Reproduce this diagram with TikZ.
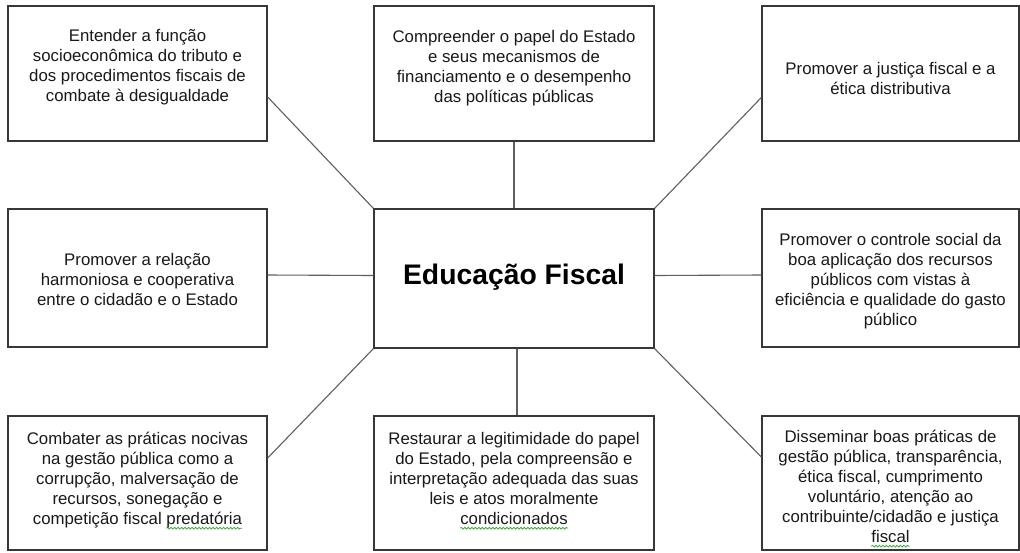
\documentclass[tikz,border=0pt]{standalone}
\usepackage{fontspec}
\setmainfont{Liberation Sans}
\usetikzlibrary{decorations.pathmorphing}
\definecolor{spellgreen}{RGB}{60,170,60}
\definecolor{boxline}{RGB}{55,55,55}
\definecolor{conline}{RGB}{95,95,95}
\definecolor{txt}{RGB}{25,25,25}
\newsavebox\spellbox
\newcommand\spellchk[1]{\sbox\spellbox{#1}\rlap{\tikz[overlay,baseline=0pt]{\draw[spellgreen, line width=0.8pt, decorate, decoration={snake, amplitude=0.9pt, segment length=3.5pt}] (0pt,-4pt) -- (\wd\spellbox,-4pt);}}\usebox\spellbox}
\tikzset{
  boxnode/.style={draw=boxline, line width=1.3pt, rectangle, inner sep=0pt, fill=white},
  textnode/.style={anchor=north, align=center, inner sep=0pt, text=txt,
    font={\fontsize{16.8pt}{20pt}\selectfont}},
  titlenode/.style={anchor=base, inner sep=0pt, text=black,
    font={\fontsize{28.3pt}{32pt}\selectfont\bfseries}},
  conn/.style={draw=conline, line width=1.1pt},
}
\newcommand\fl{\rule{0pt}{16.8pt}}
\begin{document}
\begin{tikzpicture}[x=1pt,y=-1pt]
\useasboundingbox (0,0) rectangle (1020,552);
\fill[white] (0,0) rectangle (1020,552);
% boxes
\node[boxnode, minimum width=259pt, minimum height=135pt] (tl) at (137.5,73.5) {};
\node[boxnode, minimum width=280pt, minimum height=135pt] (tm) at (514,73.5) {};
\node[boxnode, minimum width=257pt, minimum height=135pt] (tr) at (890.5,73.5) {};
\node[boxnode, minimum width=259pt, minimum height=138pt] (ml) at (137.5,278) {};
\node[boxnode, minimum width=280pt, minimum height=139pt] (c) at (514,278.5) {};
\node[boxnode, minimum width=257pt, minimum height=138pt] (mr) at (890.5,278) {};
\node[boxnode, minimum width=259pt, minimum height=134pt] (bl) at (137.5,483) {};
\node[boxnode, minimum width=280pt, minimum height=134pt] (bm) at (514,483) {};
\node[boxnode, minimum width=257pt, minimum height=134pt] (br) at (890.5,483) {};
% connectors
\draw[conn] ([yshift=-23.5pt]tl.east) -- (c.north west);
\draw[conn] (tm.south) -- (c.north);
\draw[conn] (c.north east) -- ([yshift=-24pt]tr.west);
\draw[conn] ([yshift=3pt]ml.east) -- ([yshift=3pt]c.west);
\draw[conn] ([yshift=3pt]c.east) -- ([yshift=3pt]mr.west);
\draw[conn] (c.south west) -- ([yshift=25pt]bl.east);
\draw[conn] ([xshift=3pt]c.south) -- ([xshift=3pt]bm.north);
\draw[conn] (c.south east) -- ([yshift=26pt]br.west);
% texts
\node[textnode] (tlt) at (137.5,{41.5-16.8}) {\fl Entender a função\\socioeconômica do tributo e\\dos procedimentos fiscais de\\combate à desigualdade};
\node[textnode] (tmt) at (514,{42-16.8}) {\fl Compreender o papel do Estado\\e seus mecanismos de\\financiamento e o desempenho\\das políticas públicas};
\node[textnode] (trt) at (890.5,{74-16.8}) {\fl Promover a justiça fiscal e a\\ética distributiva};
\node[textnode] (mlt) at (137.5,{265-16.8}) {\fl Promover a relação\\harmoniosa e cooperativa\\entre o cidadão e o Estado};
\node[titlenode] (ct) at (514,284) {Educação Fiscal};
\node[textnode] (mrt) at (890.5,{245-16.8}) {\fl Promover o controle social da\\boa aplicação dos recursos\\públicos com vistas à\\eficiência e qualidade do gasto\\público};
\node[textnode] (blt) at (137.5,{444-16.8}) {\fl Combater as práticas nocivas\\na gestão pública como a\\corrupção, malversação de\\recursos, sonegação e\\competição fiscal \spellchk{predatória}};
\node[textnode] (bmt) at (514,{444-16.8}) {\fl Restaurar a legitimidade do papel\\do Estado, pela compreensão e\\interpretação adequada das suas\\leis e atos moralmente\\\spellchk{condicionados}};
\node[textnode] (brt) at (890.5,{442-16.8}) {\fl Disseminar boas práticas de\\gestão pública, transparência,\\ética fiscal, cumprimento\\voluntário, atenção ao\\contribuinte/cidadão e justiça\\\spellchk{fiscal}};
\end{tikzpicture}
\end{document}
